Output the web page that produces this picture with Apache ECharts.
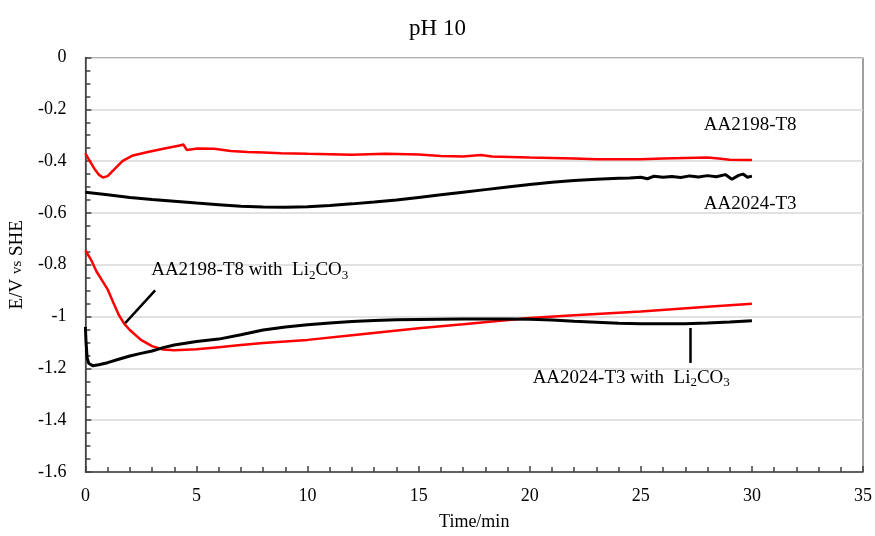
<!DOCTYPE html>
<html>
<head>
<meta charset="utf-8">
<script src="https://cdn.jsdelivr.net/npm/echarts@6/dist/echarts.min.js"></script>
<style>
html,body{margin:0;padding:0;background:#fff;}
#chart{width:875px;height:536px;}
</style>
</head>
<body>
<div id="chart"></div>
<script>
// ---- data ----
const titleText = 'pH 10';
const xAxisName = 'Time/min';
const yAxisName = 'E/V {s|vs} SHE';

const t2198 = [0, 0.19, 0.42, 0.6, 0.79, 1.0, 1.31, 1.68, 2.14, 2.81, 3.56, 4.3, 4.4, 4.57, 5.05, 5.8, 6.54, 7.29, 8.04, 8.79, 10, 12, 13.5, 15, 16, 17, 17.8, 18.3, 20, 22, 23, 25, 26, 27, 28, 28.5, 29, 30];
const v2198 = [-0.37, -0.399, -0.431, -0.452, -0.463, -0.458, -0.431, -0.399, -0.378, -0.365, -0.351, -0.339, -0.335, -0.357, -0.351, -0.352, -0.361, -0.365, -0.367, -0.37, -0.372, -0.375, -0.372, -0.374, -0.38, -0.382, -0.376, -0.382, -0.386, -0.39, -0.393, -0.393, -0.39, -0.388, -0.386, -0.39, -0.395, -0.396];

const t2024 = [0, 1, 2, 3, 4, 5, 6, 7, 8, 9, 10, 11, 12, 13, 14, 15, 16, 17, 18, 19, 20, 21, 22, 23, 24, 24.5, 25, 25.3, 25.6, 26, 26.4, 26.8, 27.2, 27.6, 28, 28.4, 28.8, 29.1, 29.4, 29.6, 29.8, 30];
const v2024 = [-0.52, -0.53, -0.54, -0.548, -0.555, -0.562, -0.568, -0.574, -0.577, -0.578, -0.576, -0.571, -0.565, -0.558, -0.55, -0.54, -0.53, -0.52, -0.51, -0.5, -0.49, -0.482, -0.475, -0.47, -0.466, -0.465, -0.462, -0.468, -0.458, -0.462, -0.459, -0.463, -0.457, -0.461, -0.456, -0.46, -0.452, -0.47, -0.455, -0.45, -0.462, -0.458];

const t2198Li = [0, 0.25, 0.5, 0.75, 1, 1.25, 1.5, 1.75, 2, 2.5, 3, 3.5, 4, 5, 6, 7, 8, 10, 12, 15, 17, 20, 22, 25, 28, 30];
const v2198Li = [-0.745, -0.78, -0.826, -0.86, -0.895, -0.945, -0.993, -1.028, -1.052, -1.09, -1.114, -1.127, -1.13, -1.126, -1.118, -1.11, -1.102, -1.09, -1.072, -1.045, -1.03, -1.006, -0.995, -0.98, -0.962, -0.951];

const t2024Li = [0, 0.03, 0.08, 0.15, 0.33, 0.6, 1, 1.5, 2, 2.5, 3, 3.5, 4, 5, 6, 7, 8, 9, 10, 11, 12, 13, 14, 15, 17, 19, 20, 21, 22, 23, 24, 25, 26, 27, 28, 29, 30];
const v2024Li = [-1.04, -1.1, -1.16, -1.18, -1.19, -1.186, -1.178, -1.165, -1.152, -1.142, -1.133, -1.12, -1.11, -1.096, -1.087, -1.07, -1.052, -1.04, -1.032, -1.025, -1.019, -1.015, -1.012, -1.011, -1.009, -1.009, -1.01, -1.013, -1.018, -1.022, -1.026, -1.028, -1.028, -1.028, -1.025, -1.021, -1.016];

// annotation anchors in data coordinates
const labelTexts = ['AA2198-T8', 'AA2024-T3', 'AA2198-T8 with  Li{s|2}CO{s|3}', 'AA2024-T3 with  Li{s|2}CO{s|3}'];
const labelAnchors = [[27.83, -0.259], [27.83, -0.565], [2.96, -0.822], [20.13, -1.236]];
const leader1 = [[1.79, -1.025], [3.14, -0.899]];
const leader2 = [[27.24, -1.044], [27.24, -1.179]];

// ---- chart ----
const FONT = '"Liberation Serif", "Times New Roman", serif';
const zip = (a, b) => a.map((x, i) => [x, b[i]]);
const chart = echarts.init(document.getElementById('chart'));

const lineSeries = (name, data, color, width) => ({
  name, type: 'line', data, showSymbol: false, symbol: 'none',
  lineStyle: { color, width }, itemStyle: { color }, animation: false, silent: true
});

const s4 = lineSeries('AA2024-T3 with Li2CO3', zip(t2024Li, v2024Li), '#000000', 3);
s4.markLine = {
  silent: true, symbol: ['none', 'none'], label: { show: false },
  lineStyle: { color: '#000', width: 2.5, type: 'solid' },
  data: [
    [{ coord: leader1[0] }, { coord: leader1[1] }],
    [{ coord: leader2[0] }, { coord: leader2[1] }]
  ],
  animation: false
};

const axisCommon = {
  axisLine: { show: true, onZero: false, lineStyle: { color: '#404040', width: 1.5 } },
  axisTick: { show: true, inside: true, length: 6, lineStyle: { color: '#404040', width: 1.5 } },
  minorTick: { show: true, length: 5, lineStyle: { color: '#404040', width: 1.5 } }
};

chart.setOption({
  animation: false,
  title: {
    text: titleText, left: 'center', top: 12,
    textStyle: { fontFamily: FONT, fontSize: 23, fontWeight: 'normal', color: '#000' }
  },
  grid: { left: 84, right: 10, top: 57.5, bottom: 61, show: true, borderColor: '#404040', borderWidth: 1 },
  xAxis: {
    type: 'value', min: 0, max: 35, interval: 5,
    name: xAxisName, nameLocation: 'middle', nameGap: 41,
    nameTextStyle: { fontFamily: FONT, fontSize: 18, color: '#000' },
    axisLine: axisCommon.axisLine,
    axisTick: axisCommon.axisTick,
    minorTick: Object.assign({ splitNumber: 5 }, axisCommon.minorTick),
    axisLabel: { fontFamily: FONT, fontSize: 18, color: '#000', margin: 15 },
    splitLine: { show: false }
  },
  yAxis: {
    type: 'value', min: -1.6, max: 0, interval: 0.2,
    name: yAxisName, nameLocation: 'middle', nameGap: 51,
    nameTextStyle: {
      fontFamily: FONT, fontSize: 19, color: '#000',
      rich: { s: { fontFamily: FONT, fontSize: 15, color: '#000' } }
    },
    axisLine: axisCommon.axisLine,
    axisTick: axisCommon.axisTick,
    minorTick: Object.assign({ splitNumber: 4 }, axisCommon.minorTick),
    axisLabel: { fontFamily: FONT, fontSize: 18, color: '#000', margin: 19 },
    splitLine: { show: true, lineStyle: { color: '#d9d9d9', width: 1.5 } }
  },
  series: [
    lineSeries('AA2198-T8', zip(t2198, v2198), '#ff0000', 2.5),
    lineSeries('AA2024-T3', zip(t2024, v2024), '#000000', 3),
    lineSeries('AA2198-T8 with Li2CO3', zip(t2198Li, v2198Li), '#ff0000', 2.5),
    s4
  ]
});

const graphics = labelTexts.map((txt, i) => {
  const p = chart.convertToPixel({ gridIndex: 0 }, labelAnchors[i]);
  return {
    type: 'text', x: p[0], y: p[1], silent: true,
    style: {
      text: txt, fill: '#000', font: '19px ' + FONT,
      textAlign: 'left', textVerticalAlign: 'middle',
      rich: { s: { fontSize: 13, fontFamily: FONT, padding: [10, 0, 0, 0], fill: '#000' } }
    }
  };
});
chart.setOption({ graphic: graphics });
</script>
</body>
</html>
